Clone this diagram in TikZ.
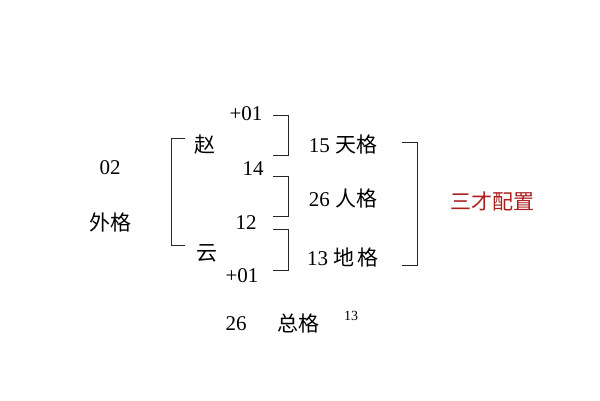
\documentclass[tikz,border=0pt]{standalone}
\usepackage{fontspec}
\setmainfont{Liberation Serif}
\newfontfamily\cjk{Noto Sans CJK SC}
\begin{document}
\begin{tikzpicture}[x=1pt,y=-1pt,
  t/.style={inner sep=0pt,font=\fontsize{21}{24}\selectfont},
  br/.style={line width=1pt,black!85}]
\fill[white] (0,0) rectangle (600,400);
\useasboundingbox (0,0) rectangle (600,400);
\node[t] (p1) at (246,114) {+01};
\node[t] (zhao) at (205,145) {\cjk 赵};
\node[t] (n14) at (253,169) {14};
\node[t] (n12) at (246,223) {12};
\node[t] (yun) at (207,253) {\cjk 云};
\node[t] (p2) at (242,276) {+01};
\node[t] (tian) at (343,145) {15 {\cjk 天格}};
\node[t] (ren) at (343,199) {26 {\cjk 人格}};
\node[t] (di) at (343,258) {13 {\cjk 地\,格}};
\node[t] (wai1) at (110,168) {02};
\node[t] (wai2) at (110,223) {\cjk 外格};
\node[t,text={rgb,255:red,170;green,30;blue,30}] (sc) at (492,201) {\cjk 三才配置};
\node[t] (zong1) at (236,324) {26};
\node[t] (zong2) at (298,324) {\cjk 总格};
\node[inner sep=0pt,font=\fontsize{14}{16}\selectfont] (sup) at (351,316) {13};
\draw[br] (185,138) -- (171,138) -- (171,245) -- (185,245);
\draw[br] (273,115) -- (288,115) -- (288,155) -- (273,155);
\draw[br] (273,176) -- (288,176) -- (288,216) -- (273,216);
\draw[br] (273,229) -- (288,229) -- (288,270) -- (273,270);
\draw[br] (402,142) -- (417,142) -- (417,265) -- (402,265);
\end{tikzpicture}
\end{document}
